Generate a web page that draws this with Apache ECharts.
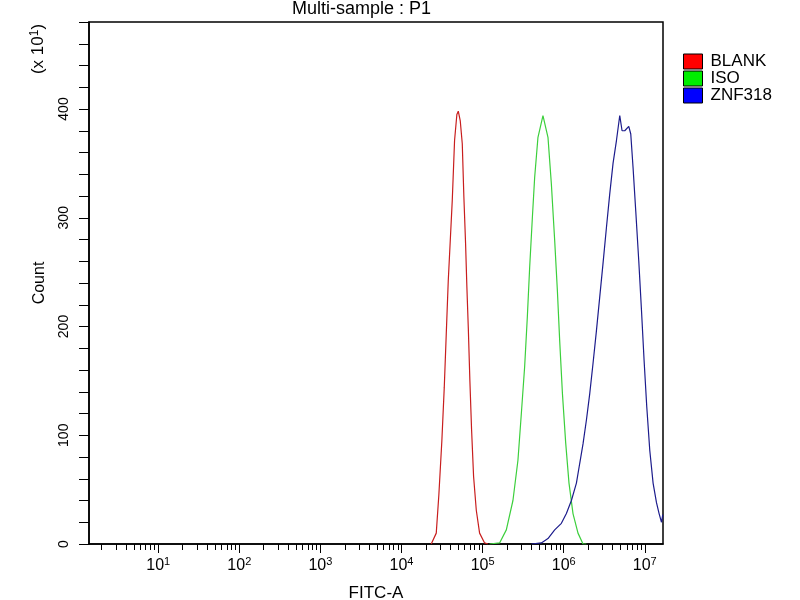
<!DOCTYPE html>
<html><head><meta charset="utf-8">
<script src="https://cdn.jsdelivr.net/npm/echarts@6/dist/echarts.min.js"></script>
<style>html,body{margin:0;padding:0;background:#fff}#c{width:800px;height:600px}</style>
</head><body><div id="c"></div>
<script>
// ---- data (FITC-A intensity, Count in units of x10^1) ----
const seriesNames = ['BLANK', 'ISO', 'ZNF318'];
const blankX = [23260, 26820, 28870, 31450, 33670, 35630, 37720, 39930, 42260, 45110, 48160, 50120, 53040, 56150, 58770, 61680, 64010, 66610, 69700, 73140, 77430, 83600, 91830, 105850, 116270];
const blankY = [0, 10, 45, 95, 144, 193, 242, 279, 316, 371, 395, 398, 389, 368, 319, 276, 236, 199, 150, 105, 62, 31, 10, 1, 0];
const isoX = [122000, 162100, 196100, 236700, 272800, 300500, 330000, 356300, 380400, 410800, 438500, 481700, 555200, 640100, 704800, 774400, 836000, 892500, 963800, 1058500, 1162700, 1302500, 1501400, 1731400, 1906900];
const isoY = [0, 1, 13, 40, 77, 120, 163, 209, 254, 300, 337, 374, 394, 374, 331, 279, 233, 187, 139, 93, 56, 28, 10, 0, 0];
const znfX = [399300, 530400, 640100, 774400, 936700, 1079700, 1244700, 1435100, 1575800, 1731400, 1906900, 2094000, 2300000, 2533000, 2782000, 3056000, 3367000, 3698000, 4061000, 4474000, 4914000, 5247000, 5664000, 6346000, 6717000, 7172000, 7743000, 8435000, 9106000, 9804000, 10585000, 11530000, 12662000, 13946000, 15016000, 16084000, 16680000];
const znfY = [0, 1, 5, 13, 19, 28, 40, 56, 74, 92, 114, 138, 166, 196, 227, 258, 291, 322, 350, 371, 394, 380, 380, 384, 377, 346, 306, 260, 215, 169, 126, 86, 56, 38, 28, 20, 27];
const legendColors = ['#ff0000', '#00ee00', '#0000ff'];
const lineColors = ['#c81e1e', '#3ccf3c', '#1c1c8c'];
const xMin = 1.4, xMax = 16777216;
const decadeExponents = [1, 2, 3, 4, 5, 6, 7];
const minorMultipliers = [2, 3, 4, 5, 6, 7, 8, 9];
const yMax = 480, yStep = 20, yLabelStep = 100;
const titleText = 'Multi-sample : P1';
const xName = 'FITC-A', yName = 'Count';
const yScaleNoteParts = ['(x 10', '1', ')'];

// ---- build ----
const FONT = 'Liberation Sans, Arial, sans-serif';
const lmin = Math.log10(xMin), lmax = Math.log10(xMax);
const minorTicks = [];
for (let n = 0; n <= 7; n++) for (const k of minorMultipliers) {
  const v = Math.log10(k) + n;
  if (v >= lmin && v <= lmax) minorTicks.push(v);
}
function pairs(xs, ys) { return xs.map((x, i) => [x, ys[i]]); }
const allX = [blankX, isoX, znfX], allY = [blankY, isoY, znfY];

const chart = echarts.init(document.getElementById('c'), null, {renderer: 'canvas'});
chart.setOption({
  animation: false,
  backgroundColor: '#fff',
  textStyle: {fontFamily: FONT},
  title: {text: titleText, left: 287, top: -5, textStyle: {fontSize: 18, fontWeight: 'normal', color: '#000', fontFamily: FONT}},
  grid: {left: 89, right: 137, top: 22, bottom: 56, show: true, borderColor: '#000', borderWidth: 1.5,
         backgroundColor: 'transparent', containLabel: false, outerBoundsMode: 'none'},
  legend: {
    orient: 'vertical', left: 678, top: 48, itemWidth: 19, itemHeight: 15, itemGap: 0, icon: 'rect',
    selectedMode: false,
    itemStyle: {borderColor: '#000', borderWidth: 1},
    textStyle: {fontSize: 17, color: '#000', lineHeight: 15, fontFamily: FONT, padding: [0, 0, 0, 3]},
    data: seriesNames.map((n, i) => ({name: n, itemStyle: {color: legendColors[i]}}))
  },
  xAxis: [
    {type: 'log', logBase: 10, min: xMin, max: xMax, position: 'bottom',
     axisLine: {show: false, onZero: false}, axisTick: {show: false}, axisLabel: {show: false}, splitLine: {show: false}},
    {type: 'value', min: lmin, max: lmax, position: 'bottom',
     axisLine: {show: true, onZero: false, lineStyle: {color: '#000', width: 1.5}},
     axisTick: {show: true, customValues: minorTicks, length: 6, lineStyle: {color: '#000', width: 1}},
     axisLabel: {show: false}, splitLine: {show: false}},
    {type: 'value', min: lmin, max: lmax, position: 'bottom',
     name: xName, nameLocation: 'middle', nameGap: 41,
     nameTextStyle: {fontSize: 17, color: '#000', fontFamily: FONT},
     axisLine: {show: false, onZero: false},
     axisTick: {show: true, customValues: decadeExponents, length: 9, lineStyle: {color: '#000', width: 1}},
     axisLabel: {show: true, customValues: decadeExponents, margin: 12, color: '#000',
       formatter: v => '{b|10}{s|' + Math.round(v) + '}',
       rich: {b: {fontSize: 16, lineHeight: 18, verticalAlign: 'bottom', color: '#000', fontFamily: FONT},
              s: {fontSize: 11, lineHeight: 11, verticalAlign: 'top', color: '#000', fontFamily: FONT}}},
     splitLine: {show: false}}
  ],
  yAxis: {
    type: 'value', min: 0, max: yMax, interval: yStep,
    name: yName, nameLocation: 'middle', nameGap: 41, nameRotate: 90,
    nameTextStyle: {fontSize: 16, color: '#000', fontFamily: FONT},
    axisLine: {show: true, onZero: false, lineStyle: {color: '#000', width: 1.5}},
    axisTick: {show: true, length: 10, lineStyle: {color: '#000', width: 1}},
    axisLabel: {rotate: 90, margin: 18, fontSize: 14, color: '#000', fontFamily: FONT,
      formatter: v => (v % yLabelStep === 0 && v < yMax) ? String(v) : ''},
    splitLine: {show: false}
  },
  graphic: [
    {type: 'text', x: 38, y: 49, rotation: Math.PI / 2,
     style: {text: '{n|' + yScaleNoteParts[0] + '}{s|' + yScaleNoteParts[1] + '}{n|' + yScaleNoteParts[2] + '}',
       fill: '#000', fontFamily: FONT, align: 'center', verticalAlign: 'middle',
       rich: {n: {fontSize: 17, lineHeight: 18, verticalAlign: 'bottom', fill: '#000', fontFamily: FONT},
              s: {fontSize: 12, lineHeight: 12, verticalAlign: 'top', fill: '#000', fontFamily: FONT}}}}
  ],
  series: seriesNames.map((n, i) => ({
    name: n, type: 'line', xAxisIndex: 0, showSymbol: false, symbol: 'none',
    data: pairs(allX[i], allY[i]),
    itemStyle: {color: legendColors[i]},
    lineStyle: {color: lineColors[i], width: 1.2},
    z: 3
  }))
});
</script></body></html>
